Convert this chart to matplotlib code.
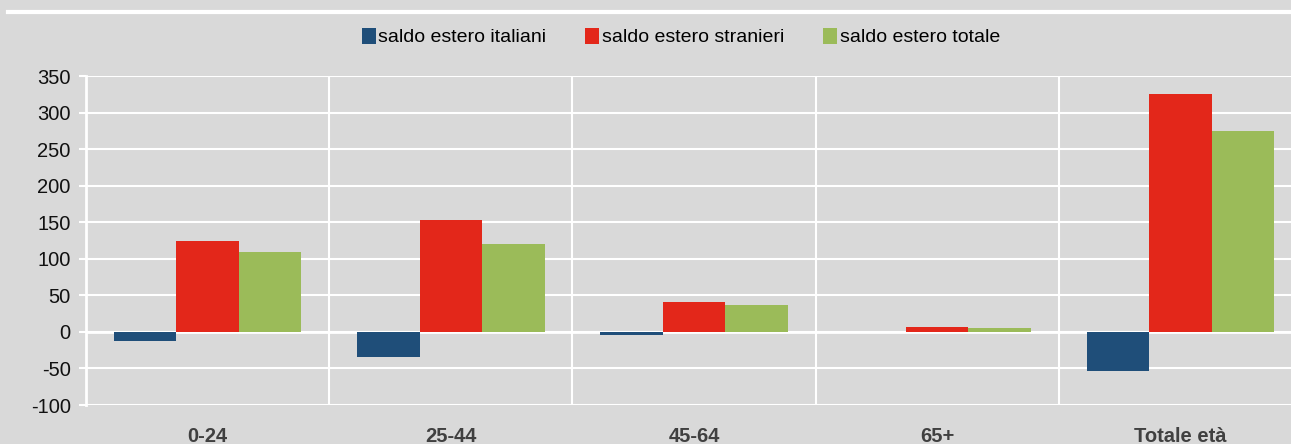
import numpy as np
import matplotlib
matplotlib.use("Agg")
import matplotlib.pyplot as plt

# saldo migratorio con l'estero per classe di età (migliaia)
CLASSI = ["0-24", "25-44", "45-64", "65+", "Totale età"]
ITALIANI = [-13, -34, -4, 0, -53]
STRANIERI = [124, 153, 41, 7, 326]
TOTALE = [109, 120, 37, 6, 275]
SERIE = ["saldo estero italiani", "saldo estero stranieri", "saldo estero totale"]
COLORI = ["#1f4e79", "#e3271a", "#9bbb59"]
BG = "#d9d9d9"

plt.rcParams["font.family"] = ["Liberation Sans", "DejaVu Sans"]
plt.rcParams["axes.unicode_minus"] = False

fig = plt.figure(figsize=(12.91, 4.44), dpi=100, facecolor=BG)
ax = fig.add_axes([86 / 1291, 1 - 405 / 444, 1216 / 1291, 329 / 444])
ax.set_facecolor(BG)

x = np.arange(len(CLASSI))
w = 0.257
for i, (vals, lab, col) in enumerate(zip([ITALIANI, STRANIERI, TOTALE], SERIE, COLORI)):
    ax.bar(x + (i - 1) * w, vals, w, color=col, label=lab, zorder=3)

ax.set_xlim(-0.5, len(CLASSI) - 0.5)
ax.set_ylim(-100, 350)
ax.set_yticks(range(-100, 351, 50))
ax.tick_params(axis="y", labelsize=14.5, colors="white", labelcolor="#111111",
               length=5, width=1.5, pad=6)
ax.tick_params(axis="x", length=0, labelsize=14.5, labelcolor="#404040", pad=16)
ax.set_xticks(x)
ax.set_xticklabels(CLASSI, fontweight="bold")

ax.grid(axis="y", color="white", lw=1.5, zorder=1)
for b in np.arange(0.5, len(CLASSI) - 0.5, 1):
    ax.axvline(b, color="white", lw=1.5, zorder=1)
ax.axhline(0, color="white", lw=2, zorder=2)

for s in ["top", "right", "bottom"]:
    ax.spines[s].set_visible(False)
ax.spines["left"].set_color("white")
ax.spines["left"].set_linewidth(2)

# linea bianca in alto
fig.add_artist(plt.Line2D([8 / 1291, 1], [1 - 12 / 444, 1 - 12 / 444],
                          color="white", lw=3, transform=fig.transFigure))

fig.legend(loc="center", bbox_to_anchor=(681 / 1291, 1 - 37 / 444), ncol=3,
           frameon=False, fontsize=14, handlelength=0.7, handleheight=0.9,
           handletextpad=0.15, columnspacing=2.0)

fig.savefig("out.png", dpi=100, facecolor=BG)
